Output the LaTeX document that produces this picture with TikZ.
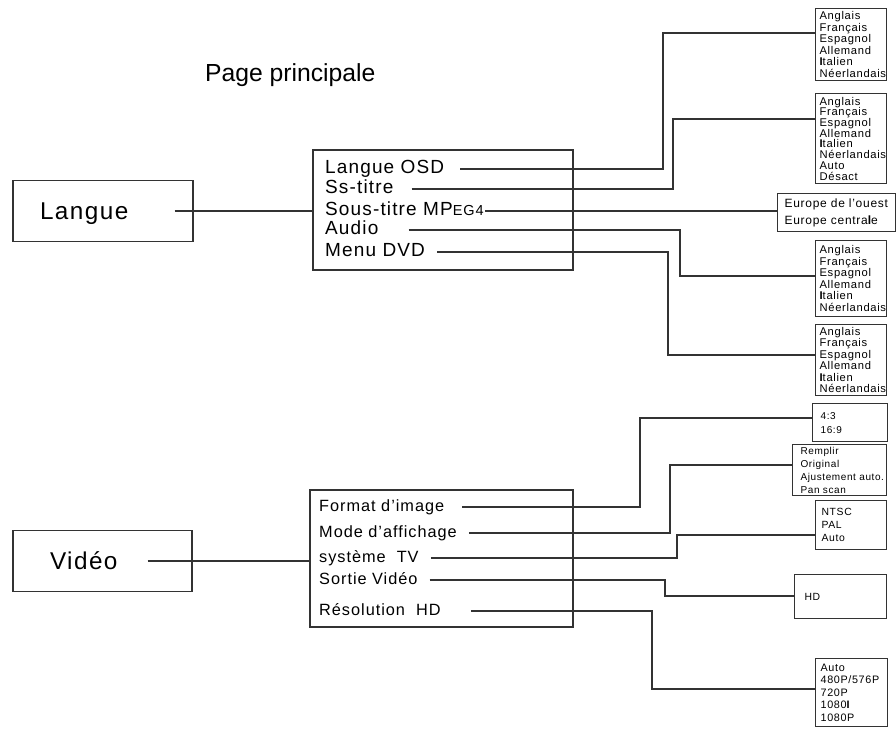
\documentclass[tikz,border=0pt]{standalone}
\usepackage{fontspec}
\setmainfont{Liberation Sans}[LetterSpace=6]
\newfontfamily\titlefont{Liberation Sans}
\begin{document}
\begin{tikzpicture}[x=1pt, y=-1pt,
    link/.style={line width=1.2pt, black!80},
    frame/.style={draw=black!80, line width=1.2pt},
    title/.style={anchor=base west, inner sep=0pt, font=\titlefont\fontsize{24.7}{26}\selectfont},
    mainbox/.style={frame, align=left, inner xsep=#1, inner ysep=0pt,
        font=\fontsize{24.3}{26}\selectfont, text height=17.4pt, text depth=0pt},
    langitem/.style={anchor=west, inner sep=0pt, font=\fontsize{19}{21}\selectfont,
        text height=9.5pt, text depth=0pt},
    viditem/.style={anchor=west, inner sep=0pt, font=\fontsize{16.3}{18}\selectfont,
        text height=8.2pt, text depth=0pt},
    pick/.style={frame, anchor=north west, align=left, inner xsep=#1, inner ysep=0pt},
    pick/.default=4pt]
    % 0. Khung hình
    \useasboundingbox (0,0) rectangle (896,729);

    % 1. Tiêu đề
    \node[title] (title) at (205,81) {Page principale};

    % 2. Hai menu chính
    \node[mainbox=27pt, text width=126pt, minimum height=61pt] (langue) at (103,211) {Langue};
    \node[mainbox=37pt, text width=105pt, minimum height=61pt] (video) at (102.5,561) {Vidéo};

    % 3. Khung menu con
    \node[frame, minimum width=260pt, minimum height=120pt] (langsub) at (443,210) {};
    \node[frame, minimum width=263pt, minimum height=137pt] (vidsub) at (441.5,558.5) {};

    \draw[link] ([xshift=-19pt]langue.east) -- (langue.east -| langsub.west);
    \draw[link] ([xshift=-45pt]video.east) -- (video.east -| vidsub.west);

    % 4. Các mục của menu con
    \node[langitem] (osd) at (325,169) {Langue OSD};
    \node[langitem] (sst) at (325,189) {Ss-titre};
    \node[langitem] (mpeg) at (325,211) {Sous-titre MP{\fontsize{14.5}{15}\selectfont EG4}};
    \node[langitem] (audio) at (325,230) {Audio};
    \node[langitem] (dvd) at (325,252) {Menu DVD};

    \node[viditem] (format) at (319,507) {Format d'image};
    \node[viditem] (mode) at (319,533) {Mode d'affichage};
    \node[viditem] (tv) at (319,558) {système\ \ TV};
    \node[viditem] (sortie) at (319,580) {Sortie Vidéo};
    \node[viditem] (resol) at (319,611) {Résolution\ \ HD};

    % 5. Các hộp lựa chọn
    \node[pick, text width=63pt, minimum height=72pt, font=\fontsize{11.2}{11.5}\selectfont] (b1) at (815,8)
        {Anglais\\Français\\Espagnol\\Allemand\\{\bfseries I}talien\\Néerlandais};
    \node[pick, text width=63pt, minimum height=90pt, font=\fontsize{11.2}{10.7}\selectfont] (b2) at (815,93)
        {Anglais\\Français\\Espagnol\\Allemand\\{\bfseries I}talien\\Néerlandais\\Auto\\Désact};
    \node[pick=7pt, text width=104pt, minimum height=38pt, font=\fontsize{12}{17}\selectfont] (b3) at (777,193)
        {Europe~de~l'ouest\\Europe~centra{\bfseries l}e};
    \node[pick, text width=63pt, minimum height=76pt, font=\fontsize{11.2}{11.5}\selectfont] (b4) at (815,240)
        {Anglais\\Français\\Espagnol\\Allemand\\{\bfseries I}talien\\Néerlandais};
    \node[pick, text width=63pt, minimum height=71pt, font=\fontsize{11.2}{11.5}\selectfont] (b5) at (815,324)
        {Anglais\\Français\\Espagnol\\Allemand\\{\bfseries I}talien\\Néerlandais};

    \node[pick=8pt, text width=59pt, minimum height=38pt, font=\fontsize{10}{14}\selectfont] (b6) at (812,403)
        {4:3\\16:9};
    \node[pick=8pt, text width=78pt, minimum height=51pt, font=\fontsize{10}{13}\selectfont] (b7) at (792,444)
        {Remplir\\Original\\Ajustement~auto.\\Pan~scan};
    \node[pick=6pt, text width=59pt, minimum height=49pt, font=\fontsize{10.4}{13}\selectfont] (b8) at (815,500)
        {NTSC\\PAL\\Auto};
    \node[pick=10pt, text width=72pt, minimum height=44pt, font=\fontsize{10.4}{12}\selectfont] (b9) at (794,574)
        {HD};
    \node[pick=5pt, text width=62pt, minimum height=68pt, font=\fontsize{10.8}{12.5}\selectfont] (b10) at (815,658)
        {Auto\\480P/576P\\720P\\1080{\bfseries I}\\1080P};

    % 6. Các điểm gấp khúc của đường nối
    \coordinate (k1) at (663,33);
    \coordinate (k2) at (673,119);
    \coordinate (k4) at (680,276);
    \coordinate (k5) at (668,355);
    \coordinate (k6) at (640,418);
    \coordinate (k7) at (670,465);
    \coordinate (k8) at (677,535);
    \coordinate (k9) at (665,596);
    \coordinate (k10) at (652,689);

    % 7. Đường nối menu con -> hộp lựa chọn
    \draw[link] ([xshift=16pt]osd.east) -| (k1) -- (k1 -| b1.west);
    \draw[link] ([xshift=18pt]sst.east) -| (k2) -- (k2 -| b2.west);
    \draw[link] ([xshift=1pt]mpeg.east) -- (mpeg.east -| b3.west);
    \draw[link] ([xshift=30pt]audio.east) -| (k4) -- (k4 -| b4.west);
    \draw[link] ([xshift=12pt]dvd.east) -| (k5) -- (k5 -| b5.west);

    \draw[link] ([xshift=18pt]format.east) -| (k6) -- (k6 -| b6.west);
    \draw[link] ([xshift=12pt]mode.east) -| (k7) -- (k7 -| b7.west);
    \draw[link] ([xshift=12pt]tv.east) -| (k8) -- (k8 -| b8.west);
    \draw[link] ([xshift=12pt]sortie.east) -| (k9) -- (k9 -| b9.west);
    \draw[link] ([xshift=30pt]resol.east) -| (k10) -- (k10 -| b10.west);
\end{tikzpicture}
\end{document}
